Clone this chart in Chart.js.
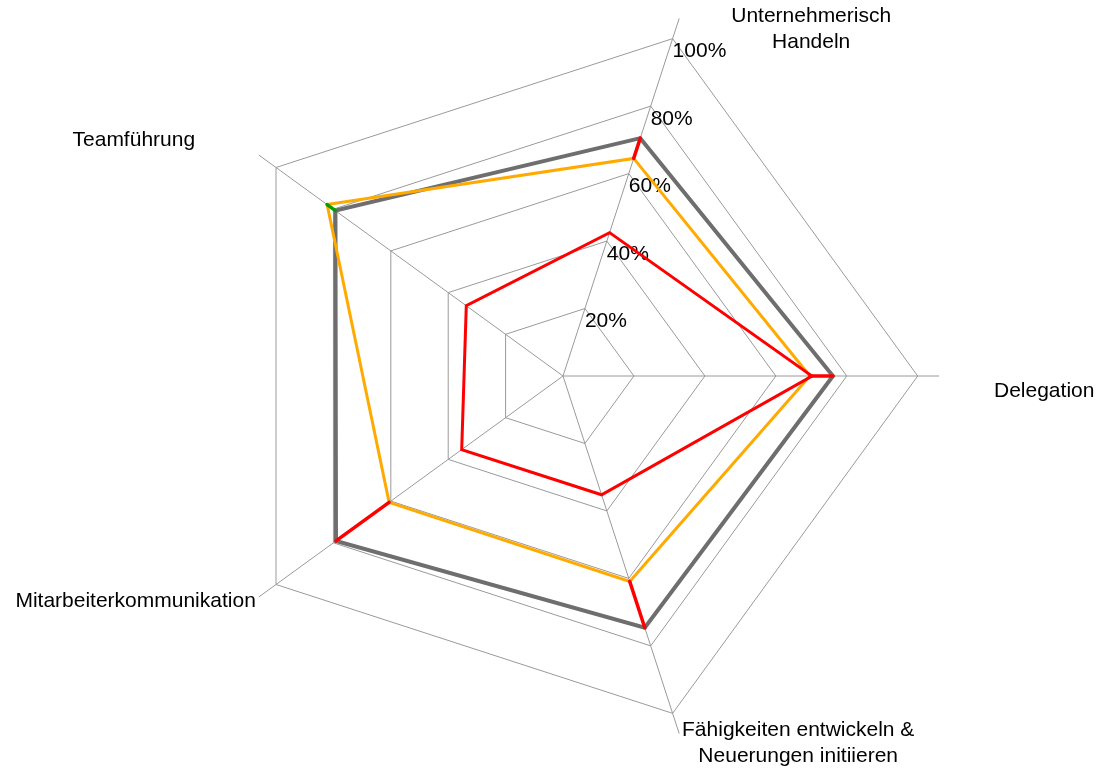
<!DOCTYPE html>
<html lang="de">
<head>
<meta charset="utf-8">
<title>Kompetenzprofil</title>
<script src="https://cdn.jsdelivr.net/npm/chart.js@4/dist/chart.umd.min.js"></script>
<style>
  html, body { margin: 0; padding: 0; background: #ffffff; }
  canvas { display: block; }
</style>
</head>
<body>
<canvas id="radar" width="1102" height="769"></canvas>
<script>
// Achsen (Kompetenzfelder), mehrzeilige Beschriftungen als Arrays
const kategorien = [
  ['Unternehmerisch', 'Handeln'],
  'Delegation',
  ['Fähigkeiten entwickeln &', 'Neuerungen initiieren'],
  'Mitarbeiterkommunikation',
  'Teamführung'
];

// Werte in Prozent je Achse
const profilGrau   = [70.5, 76.1, 74.6, 79.1, 79.3];
const profilOrange = [64.5, 69.6, 60.9, 60.6, 82.2];
const profilRot    = [42.5, 70.2, 35.2, 35.3, 33.7];

// Skalenbeschriftung
const tickWerte = [20, 40, 60, 80, 100];
const achsenMax = 106;

const schrift = '21px "Liberation Sans", Arial, Helvetica, sans-serif';

// Versatz der Achsenbeschriftungen gegenüber dem Achsenende: [dx, dy, Ausrichtung]
const labelVersatz = [
  [132, 10.5, 'center'],
  [55, 15, 'left'],
  [119, 9.5, 'center'],
  [-3, 4, 'right'],
  [-125, -15, 'center']
];

// Prozentangaben entlang der ersten Achse und Achsenbeschriftungen
const beschriftung = {
  id: 'beschriftung',
  beforeDatasetsDraw(chart) {
    const s = chart.scales.r;
    const ctx = chart.ctx;
    ctx.save();
    ctx.font = schrift;
    ctx.fillStyle = '#000000';
    ctx.textBaseline = 'middle';

    ctx.textAlign = 'left';
    tickWerte.forEach(v => {
      const p = s.getPointPosition(0, s.getDistanceFromCenterForValue(v));
      ctx.fillText(v + '%', p.x, p.y + 13);
    });

    const rand = s.getDistanceFromCenterForValue(achsenMax);
    const zeilenHoehe = 26;
    kategorien.forEach((lab, i) => {
      const p = s.getPointPosition(i, rand);
      const [dx, dy, align] = labelVersatz[i];
      const zeilen = Array.isArray(lab) ? lab : [lab];
      ctx.textAlign = align;
      const y0 = p.y + dy - (zeilen.length - 1) * zeilenHoehe / 2;
      zeilen.forEach((t, k) => ctx.fillText(t, p.x + dx, y0 + k * zeilenHoehe));
    });
    ctx.restore();
  }
};

// Abstand zwischen grauem und orangem Profil je Achse: rot = darunter, grün = darüber
const abstand = {
  id: 'abstand',
  afterDatasetsDraw(chart) {
    const grau = chart.getDatasetMeta(0).data;
    const orange = chart.getDatasetMeta(1).data;
    const ctx = chart.ctx;
    ctx.save();
    ctx.lineWidth = 3.5;
    ctx.lineCap = 'round';
    profilGrau.forEach((g, i) => {
      const o = profilOrange[i];
      if (o === g) return;
      ctx.strokeStyle = o > g ? '#00a000' : '#ff0000';
      ctx.beginPath();
      ctx.moveTo(orange[i].x, orange[i].y);
      ctx.lineTo(grau[i].x, grau[i].y);
      ctx.stroke();
    });
    ctx.restore();
  }
};

const linie = (label, data, farbe, breite, reihenfolge) => ({
  label,
  data,
  borderColor: farbe,
  backgroundColor: 'rgba(0,0,0,0)',
  borderWidth: breite,
  fill: false,
  pointRadius: 0,
  pointHoverRadius: 0,
  tension: 0,
  order: reihenfolge
});

new Chart(document.getElementById('radar'), {
  type: 'radar',
  data: {
    labels: kategorien,
    datasets: [
      linie('Profil A', profilGrau, '#6e6e6e', 4, 3),
      linie('Profil B', profilOrange, '#ffaa00', 3, 2),
      linie('Profil C', profilRot, '#ff0000', 3, 1)
    ]
  },
  options: {
    responsive: false,
    animation: false,
    devicePixelRatio: 1,
    layout: { padding: { left: 187, right: 163, top: 0, bottom: 17 } },
    plugins: {
      legend: { display: false },
      tooltip: { enabled: false }
    },
    elements: { line: { borderJoinStyle: 'miter' } },
    scales: {
      r: {
        min: 0,
        max: achsenMax,
        startAngle: 18,
        ticks: { display: false, stepSize: 20, includeBounds: false },
        grid: {
          color: c => (c.tick && c.tick.value > 100) ? 'rgba(0,0,0,0)' : '#9a9a9a',
          lineWidth: 1
        },
        angleLines: { color: '#9a9a9a', lineWidth: 1 },
        pointLabels: { display: false }
      }
    }
  },
  plugins: [beschriftung, abstand]
});
</script>
</body>
</html>
